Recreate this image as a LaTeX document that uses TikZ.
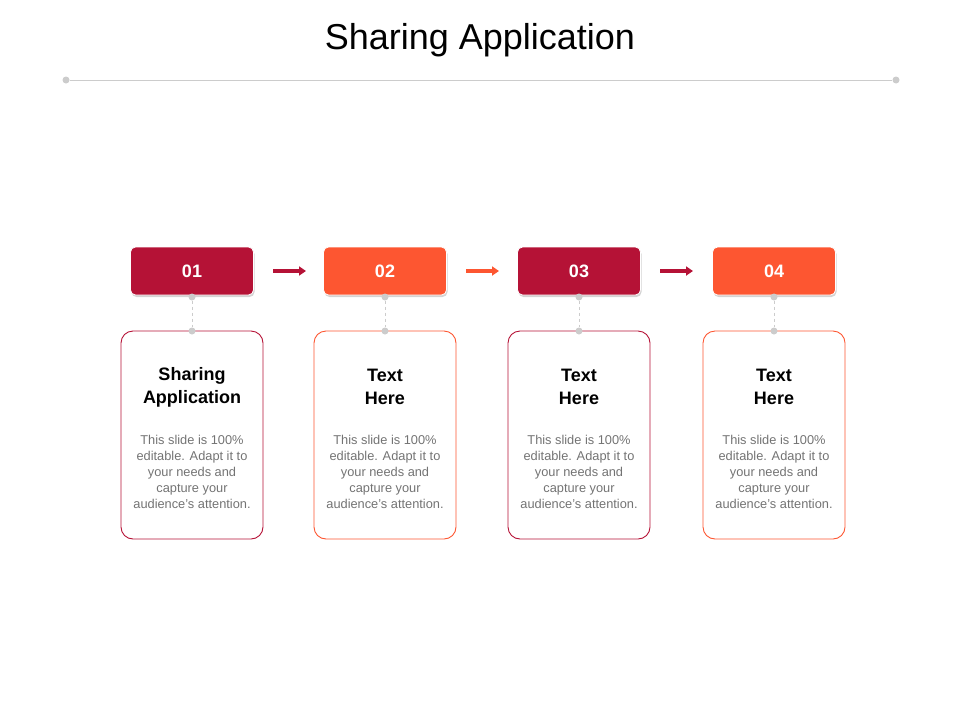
\documentclass[tikz,border=0pt]{standalone}
\usepackage{fontspec}
\setmainfont{Liberation Sans}
\usetikzlibrary{shadows,arrows.meta}
\definecolor{dred}{HTML}{B51236}
\definecolor{orng}{HTML}{FD5631}
\definecolor{lgray}{HTML}{CCCCCC}
\begin{document}
\begin{tikzpicture}[x=1pt,y=-1pt,
  numbox/.style={rounded corners=5pt,minimum width=123pt,minimum height=48pt,text=white,font=\bfseries\fontsize{18}{20}\selectfont,drop shadow={opacity=0.35,shadow xshift=1pt,shadow yshift=-2pt},draw=white,line width=0.8pt},
  txtbox/.style={rounded corners=12pt,minimum width=142pt,minimum height=208pt,draw,line width=0.9pt},
  head/.style={font=\bfseries\fontsize{18}{23}\selectfont,align=center},
  body/.style={font=\fontsize{12.8}{16}\selectfont,align=center,text=gray!90!black},
  conn/.style={lgray,dashed,line width=0.8pt},
  dot/.style={circle,fill=lgray,inner sep=0pt,minimum size=7pt},
  arr/.style={line width=3.5pt,-{Triangle[length=7pt,width=9pt]},shorten >=0pt}]
\useasboundingbox (0,0) rectangle (960,720);
\node[font=\fontsize{36}{40}\selectfont] (title) at (480,40) {Sharing Application};
\node[dot] (la) at (66,80) {};
\node[dot] (lb) at (896,80) {};
\draw[lgray,line width=1pt] (la) -- (lb);
\foreach \i/\x/\c/\h in {1/192/dred/{Sharing\\Application},2/385/orng/{Text\\Here},3/579/dred/{Text\\Here},4/774/orng/{Text\\Here}}{
  \node[numbox,fill=\c] (n\i) at (\x,271) {0\i};
  \node[txtbox,draw=\c] (b\i) at (\x,435) {};
  \node[head] (h\i) at (\x,387) {\h};
  \node[body] (t\i) at (\x,472) {This slide is 100\%\\editable. Adapt it to\\your needs and\\capture your\\audience's attention.};
  \node[dot] (d\i) at (\x,297) {};
  \node[dot] (e\i) at (\x,331) {};
  \draw[conn] (d\i) -- (e\i);
}
\coordinate (a1s) at (273,271); \coordinate (a1e) at (306,271);
\coordinate (a2s) at (466,271); \coordinate (a2e) at (499,271);
\coordinate (a3s) at (660,271); \coordinate (a3e) at (693,271);
\draw[arr,dred] (a1s) -- (a1e);
\draw[arr,orng] (a2s) -- (a2e);
\draw[arr,dred] (a3s) -- (a3e);
\end{tikzpicture}
\end{document}
